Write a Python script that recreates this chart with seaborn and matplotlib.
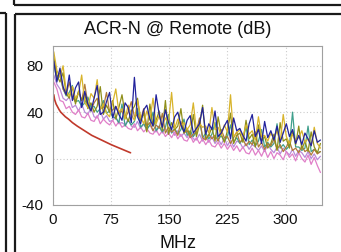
import numpy as np
import pandas as pd
import matplotlib
matplotlib.use("Agg")
import matplotlib.pyplot as plt
from matplotlib.lines import Line2D
import seaborn as sns

# sample frequencies (MHz)
freq = list(range(1, 346, 4))

navy = [84,66,78,62,55,72,50,61,66,44,
        58,47,41,52,63,38,40,49,57,35,
        45,38,33,48,44,31,70,36,30,42,
        46,34,28,55,38,27,42,31,25,36,
        40,29,23,33,37,22,26,30,44,21,
        30,25,41,19,22,28,33,17,35,24,
        26,20,15,30,38,19,25,13,32,18,
        24,16,28,14,22,30,19,25,13,20,
        12,22,17,11,24,14,16]
olive = [88,72,66,74,56,52,62,47,58,50,
         56,43,48,40,45,62,38,46,40,50,
         34,44,55,38,32,41,45,52,33,39,
         23,47,28,33,41,24,50,21,31,25,
         28,43,22,26,20,38,19,29,46,17,
         20,27,15,36,21,14,24,39,13,20,
         22,14,33,17,21,10,29,15,19,9,
         13,21,7,31,15,17,9,24,12,28,
         8,15,6,23,10,5,13]
gold = [92,76,70,80,58,54,62,52,56,72,
        48,44,56,52,68,42,47,39,36,48,
        60,40,43,34,46,38,33,50,36,30,
        41,33,52,30,37,28,35,31,57,26,
        34,28,31,25,29,48,24,30,27,28,
        22,44,25,27,20,29,23,55,19,22,
        25,18,29,21,24,16,36,19,20,15,
        22,17,24,14,38,19,13,21,16,18,
        24,14,17,11,27,13,9]
brown = [86,70,74,60,55,66,53,49,58,50,
         64,47,41,48,52,43,44,57,40,42,
         45,39,41,35,40,49,36,38,33,43,
         28,31,24,29,26,39,22,27,23,25,
         20,32,22,24,18,21,23,35,18,16,
         21,17,20,15,25,18,19,13,18,23,
         14,17,11,15,12,23,10,14,8,13,
         11,17,8,12,6,10,15,7,9,5,
         11,6,8,3,8,4,6]
teal = [82,68,72,60,54,57,63,49,50,45,
        48,53,44,45,40,43,50,39,41,36,
        35,31,47,28,33,29,32,43,27,30,
        25,29,40,24,28,23,27,38,22,26,
        21,25,34,20,24,19,23,33,18,22,
        17,21,31,16,20,15,19,29,14,18,
        13,17,27,12,16,11,15,25,10,14,
        10,13,30,9,12,8,11,40,10,10,
        7,9,28,6,8,5,6]
pink = [66,60,50,49,43,45,40,38,42,36,
        35,39,33,32,37,30,34,31,29,33,
        28,32,27,29,26,25,30,24,27,23,
        26,22,21,25,20,24,19,22,18,23,
        17,21,16,15,20,14,18,13,17,12,
        16,11,10,14,9,13,8,12,7,11,
        6,10,5,4,9,3,7,2,8,1,
        6,0,5,3,-1,6,1,4,-2,5,
        0,-3,3,-5,1,-6,-12]
violet = [72,64,60,52,50,53,44,46,41,47,
          40,38,44,36,35,41,34,37,32,33,
          36,30,31,29,34,28,27,32,26,30,
          25,29,24,23,28,22,26,21,25,20,
          24,19,22,18,23,17,16,21,15,20,
          14,19,13,17,12,18,11,16,10,15,
          14,9,13,8,12,10,7,11,6,12,
          8,5,10,4,9,6,3,8,2,7,
          5,1,6,0,4,-1,2]

limit_freq = [1, 2, 4, 8, 10, 16, 20, 25, 31.25, 50, 62.5, 75, 100]
limit_val = [55, 51, 47, 42, 40, 36, 34, 31, 28, 20, 16, 12, 5]

series = {"violet": violet, "pink": pink, "teal": teal, "brown": brown,
          "olive": olive, "gold": gold, "navy": navy}
colors = {"violet": "#b98ad8", "pink": "#e07fc8", "teal": "#3f9f8c",
          "brown": "#b07a3a", "olive": "#8f8f1a", "gold": "#d8b42c",
          "navy": "#22229c"}

rows = []
for name, vals in series.items():
    for f, v in zip(freq, vals):
        rows.append((name, f, v))
df = pd.DataFrame(rows, columns=["pair", "MHz", "dB"])
lim = pd.DataFrame({"MHz": limit_freq, "dB": limit_val})

sns.set_theme(style="white")
plt.rcParams["font.family"] = ["Liberation Sans", "DejaVu Sans"]
plt.rcParams["axes.unicode_minus"] = False

fig = plt.figure(figsize=(3.41, 2.52), dpi=100)
ax = fig.add_axes([53/341, 1-205/252, 269/341, 159/252])

sns.lineplot(data=df, x="MHz", y="dB", hue="pair", palette=colors,
             linewidth=0.9, ax=ax, legend=False, estimator=None)
sns.lineplot(data=lim, x="MHz", y="dB", color="#c0392b", linewidth=1.2,
             ax=ax, legend=False)

ax.set_xlim(0, 347)
ax.set_ylim(-40, 97)
ax.set_xticks([0, 75, 150, 225, 300])
ax.set_yticks([-40, 0, 40, 80])
ax.set_xlabel("")
ax.set_ylabel("")
ax.grid(True, color="#cccccc", linestyle=(0, (1, 2)), linewidth=0.8)
for s in ax.spines.values():
    s.set_color("#a0a0a0")
    s.set_linewidth(0.8)
ax.tick_params(axis="both", length=0, labelsize=11, colors="#111111")
ax.tick_params(axis="y", pad=7)
ax.tick_params(axis="x", pad=6)

fig.text(178/341, 1-29/252, "ACR-N @ Remote (dB)", ha="center", va="center",
         fontsize=13, color="#111111")
fig.text(178/341, 1-243/252, "MHz", ha="center", va="center",
         fontsize=13, color="#111111")

def fl(x0, y0, x1, y1):
    fig.add_artist(Line2D([x0/341, x1/341], [1-y0/252, 1-y1/252],
                          transform=fig.transFigure, color="#1a1a1a",
                          linewidth=1.6, solid_capstyle="butt"))

fl(0, 13, 5.5, 13)
fl(5.5, 13, 5.5, 252)
fl(14, 0, 14, 4.5)
fl(14, 4.5, 341, 4.5)
fl(15, 14, 341, 14)
fl(15, 14, 15, 252)

fig.savefig("out.png", dpi=100)
